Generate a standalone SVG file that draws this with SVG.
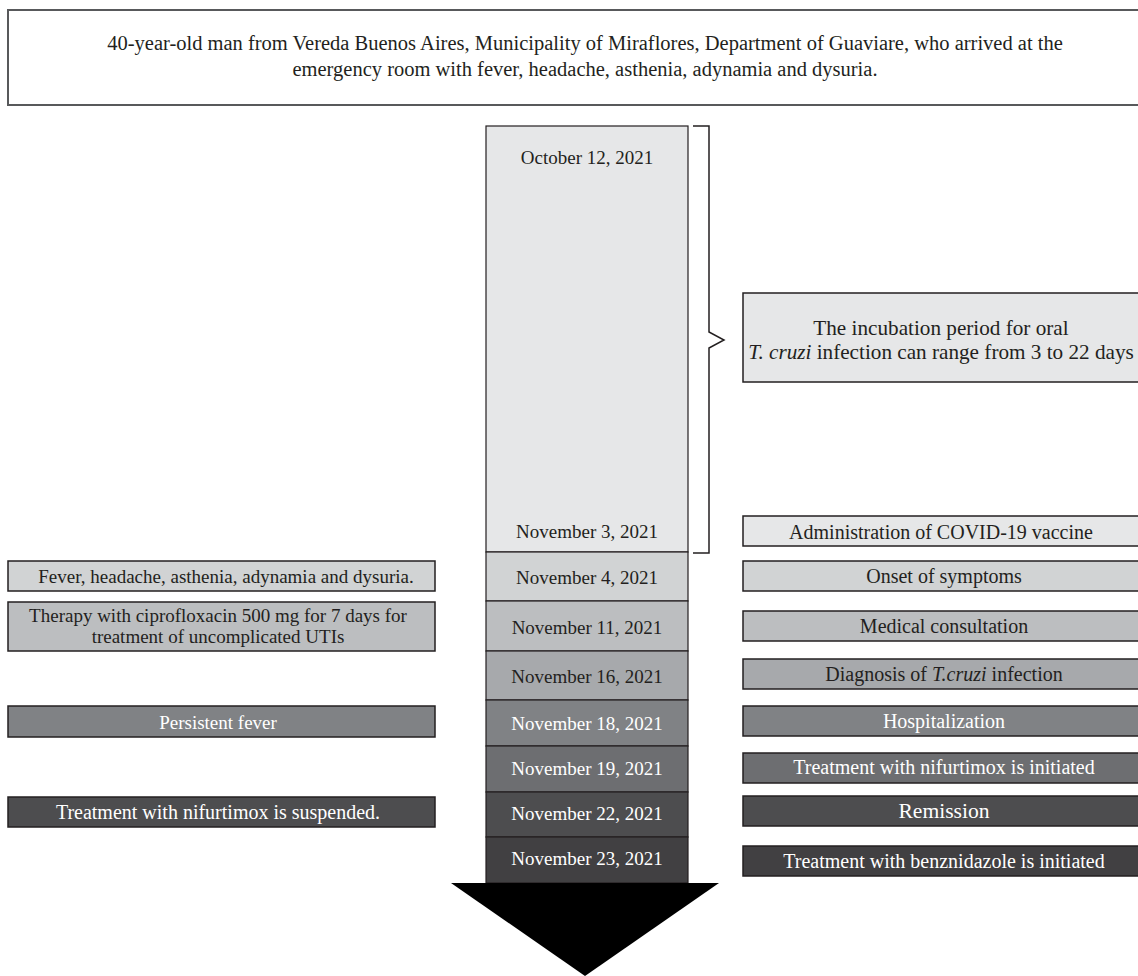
<svg xmlns="http://www.w3.org/2000/svg" width="1138" height="976" viewBox="0 0 1138 976">
<style>
text{font-family:"Liberation Serif","Times New Roman",serif;font-size:19px;fill:#231f20;text-anchor:middle}
.r{font-size:20px}
.h{font-size:20.5px}
.i{font-size:21.2px}
.big{font-size:21.6px}
.w{fill:#ffffff}
.b{stroke:#231f20;stroke-width:1.5}
.c{stroke:#231f20;stroke-width:1.2}
.g0{fill:#e6e7e8}.g1{fill:#d1d3d4}.g2{fill:#bcbec0}.g3{fill:#a7a9ac}.g4{fill:#808285}.g5{fill:#6d6e71}.g6{fill:#4d4d4f}.g7{fill:#414042}
</style>
<rect width="1138" height="976" fill="#ffffff"/>
<g id="header">
<rect x="8" y="10" width="1140" height="95" fill="#ffffff" stroke="#58595b" stroke-width="2"/>
<text class="h" x="585" y="50">40-year-old man from Vereda Buenos Aires, Municipality of Miraflores, Department of Guaviare, who arrived at the</text>
<text class="h" x="585" y="76">emergency room with fever, headache, asthenia, adynamia and dysuria.</text>
</g>
<g id="timeline">
<rect class="g0 c" x="486" y="126" width="202" height="426"/>
<text x="587" y="164">October 12, 2021</text>
<text x="587" y="538">November 3, 2021</text>
<rect class="g1 c" x="486" y="552" width="202" height="49"/>
<text x="587" y="584">November 4, 2021</text>
<rect class="g2 c" x="486" y="601" width="202" height="50"/>
<text x="587" y="634">November 11, 2021</text>
<rect class="g3 c" x="486" y="651" width="202" height="49"/>
<text x="587" y="683">November 16, 2021</text>
<rect class="g4 c" x="486" y="700" width="202" height="46"/>
<text class="w" x="587" y="730">November 18, 2021</text>
<rect class="g5 c" x="486" y="746" width="202" height="46"/>
<text class="w" x="587" y="775">November 19, 2021</text>
<rect class="g6 c" x="486" y="792" width="202" height="45"/>
<text class="w" x="587" y="820">November 22, 2021</text>
<rect class="g7 c" x="486" y="837" width="202" height="46"/>
<text class="w" x="587" y="865">November 23, 2021</text>
<polygon points="451,883 719,883 585,976" fill="#000000"/>
</g>
<g id="connectors">
<path d="M693,126 H709 V332 L724,340 L709,348 V553 H693" fill="none" stroke="#231f20" stroke-width="1.5"/>
</g>
<g id="incubation">
<rect class="g0 b" x="743" y="293" width="400" height="89"/>
<text class="i" x="941" y="335">The incubation period for oral</text>
<text class="i" x="941" y="359"><tspan font-style="italic">T. cruzi</tspan> infection can range from 3 to 22 days</text>
</g>
<g id="covid"><rect class="g0 b" x="743" y="516" width="400" height="30"/><text class="r" x="941" y="539">Administration of COVID-19 vaccine</text></g>
<g id="onset"><rect class="g1 b" x="743" y="561" width="400" height="30"/><text class="r" x="944" y="583">Onset of symptoms</text></g>
<g id="consult"><rect class="g2 b" x="743" y="611" width="400" height="30"/><text class="r" x="944" y="633">Medical consultation</text></g>
<g id="diagnosis"><rect class="g3 b" x="743" y="659" width="400" height="30"/><text class="r" x="944" y="681">Diagnosis of <tspan font-style="italic">T.cruzi</tspan> infection</text></g>
<g id="hosp"><rect class="g4 b" x="743" y="706" width="400" height="30"/><text class="w r" x="944" y="728">Hospitalization</text></g>
<g id="nifinit"><rect class="g5 b" x="743" y="753" width="400" height="30"/><text class="w r" x="944" y="774">Treatment with nifurtimox is initiated</text></g>
<g id="remission"><rect class="g6 b" x="743" y="796" width="400" height="30"/><text class="w big" x="944" y="818">Remission</text></g>
<g id="benz"><rect class="g7 b" x="743" y="846" width="400" height="30"/><text class="w r" x="944" y="868">Treatment with benznidazole is initiated</text></g>
<g id="fever"><rect class="g1 b" x="8" y="561" width="427" height="30"/><text x="226" y="583">Fever, headache, asthenia, adynamia and dysuria.</text></g>
<g id="therapy"><rect class="g2 b" x="8" y="602" width="427" height="49"/><text x="218" y="622">Therapy with ciprofloxacin 500 mg for 7 days for</text><text x="218" y="643">treatment of uncomplicated UTIs</text></g>
<g id="persistent"><rect class="g4 b" x="8" y="706" width="427" height="31"/><text class="w" x="218" y="729">Persistent fever</text></g>
<g id="suspended"><rect class="g6 b" x="8" y="797" width="427" height="30"/><text class="w r" x="218" y="819">Treatment with nifurtimox is suspended.</text></g>
</svg>
